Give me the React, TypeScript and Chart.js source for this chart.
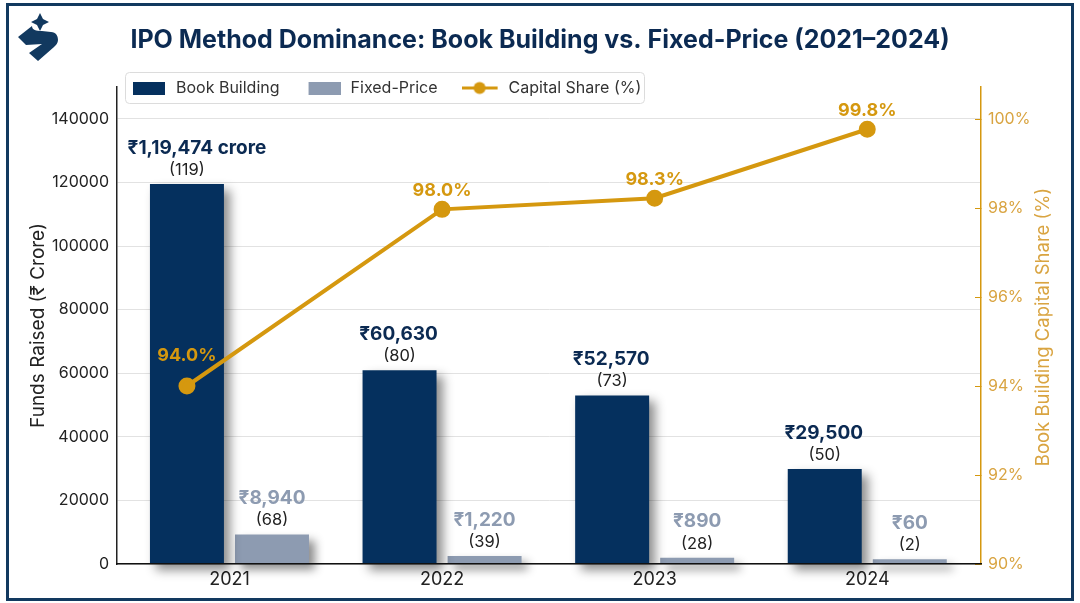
import { useEffect, useRef } from "react";
import { Chart, registerables } from "chart.js";

Chart.register(...registerables);

const FONT = "Inter";
const NAVY = "#05305E";
const SLATE = "#8D9BB1";
const GOLD = "#D5980F";
const GOLD_TEXT = "#D9A441";

const years = ["2021", "2022", "2023", "2024"];
const groupX = [0, 1, 2, 3];
const capitalX = [-0.2, 1, 2, 3];
const fundTicks = [0, 20000, 40000, 60000, 80000, 100000, 120000, 140000];

const bookBuilding = [119474, 60900, 53000, 29900];
const fixedPrice = [9300, 2500, 2000, 1500];
const capitalShare = [94.0, 97.97, 98.22, 99.77];

const bookLabels = ["₹1,19,474 crore", "₹60,630", "₹52,570", "₹29,500"];
const bookCounts = ["(119)", "(80)", "(73)", "(50)"];
const fixedLabels = ["₹8,940", "₹1,220", "₹890", "₹60"];
const fixedCounts = ["(68)", "(39)", "(28)", "(2)"];
const shareLabels = ["94.0%", "98.0%", "98.3%", "99.8%"];

// legend swatches go through pointStyle so the line entry can have its dot
const swatch = (draw: (c: CanvasRenderingContext2D) => void, w: number, h: number) => {
  const cv = document.createElement("canvas");
  cv.width = w;
  cv.height = h;
  draw(cv.getContext("2d")!);
  return cv;
};

const barShadow = {
  id: "barShadow",
  beforeDatasetDraw(chart: any, args: any) {
    if (args.meta.type !== "bar") return;
    const { ctx } = chart;
    ctx.save();
    ctx.shadowColor = "rgba(0,0,0,0.45)";
    ctx.shadowBlur = 10;
    ctx.shadowOffsetX = 6;
    ctx.shadowOffsetY = 6;
  },
  afterDatasetDraw(chart: any, args: any) {
    if (args.meta.type === "bar") chart.ctx.restore();
  },
};

const moveHeader = {
  id: "moveHeader",
  afterLayout(chart: any) {
    const t = chart.titleBlock;
    t.top += 18;
    t.bottom += 18;
    const l = chart.legend;
    const h = l.height;
    l.left = 105;
    l.right = l.left + l.width;
    l.top = 56;
    l.bottom = l.top + h;
  },
  afterDraw(chart: any) {
    const { ctx } = chart;
    ctx.save();
    ctx.strokeStyle = "#dcdcdc";
    ctx.lineWidth = 1;
    ctx.beginPath();
    ctx.roundRect(125.5, 72.5, 519, 31, 4);
    ctx.stroke();
    ctx.restore();
  },
};

const valueLabels = {
  id: "valueLabels",
  afterDatasetsDraw(chart: any) {
    const { ctx } = chart;
    const put = (text: string, x: number, y: number, font: string, color: string) => {
      ctx.font = font;
      ctx.fillStyle = color;
      ctx.fillText(text, x, y);
    };
    ctx.save();
    ctx.textAlign = "center";
    ctx.textBaseline = "middle";
    chart.getDatasetMeta(0).data.forEach((bar: any, i: number) => {
      const shift = i === 0 ? 10 : -1;
      put(bookLabels[i], bar.x + shift, bar.y - 36, `700 19px ${FONT}`, "#0B2A52");
      put(bookCounts[i], bar.x, bar.y - 14, `400 16.5px ${FONT}`, "#222");
    });
    chart.getDatasetMeta(1).data.forEach((bar: any, i: number) => {
      put(fixedLabels[i], bar.x, bar.y - 36, `700 19px ${FONT}`, SLATE);
      put(fixedCounts[i], bar.x, bar.y - 14, `400 16.5px ${FONT}`, "#222");
    });
    chart.getDatasetMeta(2).data.forEach((pt: any, i: number) => {
      const up = i === 0 ? 30 : 19;
      put(shareLabels[i], pt.x, pt.y - up, `700 18px ${FONT}`, GOLD);
    });
    // right axis title reads bottom to top, chart.js would flip it
    ctx.translate(1043, 327);
    ctx.rotate(-Math.PI / 2);
    put("Book Building Capital Share (%)", 0, 0, `400 18.5px ${FONT}`, GOLD_TEXT);
    ctx.restore();
  },
};

const Logo = () => (
  <svg
    width="60"
    height="60"
    viewBox="0 0 60 60"
    style={{ position: "absolute", left: 10, top: 8 }}
  >
    <path d="M30 5 L33 11 L39 14 L33 17 L30 23 L27 17 L21 14 L27 11 Z" fill="#12395F" />
    <path
      d="M8 29 L22 18 C22 22 26 23 32 23 L41 24 C46 24 48 28 48 32 C48 35 46 37 44 39 L28 53 L19 45 L32 36 L16 37 Z"
      fill="#12395F"
    />
  </svg>
);

export default function App() {
  const chartRef = useRef<HTMLCanvasElement>(null);

  useEffect(() => {
    const canvas = chartRef.current;
    if (!canvas) return;

    const rectNavy = swatch((c) => { c.fillStyle = NAVY; c.fillRect(0, 0, 32, 13); }, 32, 13);
    const rectSlate = swatch((c) => { c.fillStyle = SLATE; c.fillRect(3, 0, 32, 13); }, 35, 13);
    const lineDot = swatch((c) => {
      c.fillStyle = GOLD;
      c.fillRect(0, 6, 36, 3);
      c.beginPath();
      c.arc(18, 7.5, 6, 0, Math.PI * 2);
      c.fill();
    }, 39, 15);
    const swatches = [rectNavy, rectSlate, lineDot];

    const chart = new Chart(canvas, {
      type: "bar",
      data: {
        datasets: [
          {
            label: "Book Building",
            data: groupX.map((x, i) => ({ x, y: bookBuilding[i] })),
            backgroundColor: NAVY,
            yAxisID: "y",
            order: 1,
            clip: false,
            categoryPercentage: 0.8,
            barPercentage: 0.87,
          },
          {
            label: "Fixed-Price",
            data: groupX.map((x, i) => ({ x, y: fixedPrice[i] })),
            backgroundColor: SLATE,
            yAxisID: "y",
            order: 1,
            clip: false,
            categoryPercentage: 0.8,
            barPercentage: 0.87,
          },
          {
            type: "line",
            label: "Capital Share (%)",
            data: capitalX.map((x, i) => ({ x, y: capitalShare[i] })),
            borderColor: GOLD,
            backgroundColor: GOLD,
            borderWidth: 4,
            pointRadius: 6.5,
            tension: 0,
            yAxisID: "y1",
            order: 0,
          },
        ] as any,
      },
      options: {
        responsive: false,
        animation: false,
        layout: { padding: { top: 7 } },
        plugins: {
          title: {
            display: true,
            text: "IPO Method Dominance: Book Building vs. Fixed-Price (2021–2024)",
            color: "#0B2A52",
            font: { family: FONT, size: 25, weight: 700 },
            padding: 0,
          },
          legend: {
            position: "top",
            align: "start",
            labels: {
              usePointStyle: true,
              pointStyleWidth: 39,
              padding: 24,
              color: "#333",
              font: { family: FONT, size: 16 },
              generateLabels: (c: any) =>
                c.data.datasets.map((d: any, i: number) => ({
                  text: d.label,
                  datasetIndex: i,
                  pointStyle: swatches[i],
                  fontColor: "#333",
                  lineWidth: 0,
                })),
            },
          },
          tooltip: { enabled: false },
        },
        scales: {
          x: {
            type: "linear",
            offset: false,
            min: -0.529,
            max: 3.535,
            afterBuildTicks: (s: any) => {
              s.ticks = groupX.map((value) => ({ value }));
            },
            afterFit: (s: any) => {
              s.height = 39;
            },
            grid: { display: false, drawTicks: false },
            border: { display: true, color: "#111", width: 1.5, z: 1 },
            ticks: {
              autoSkip: false,
              maxRotation: 0,
              padding: 5,
              color: "#222",
              font: { family: FONT, size: 18 },
              callback: (v: any) => years[groupX.indexOf(v)],
            },
          },
          y: {
            position: "left",
            min: 0,
            max: 150000,
            afterBuildTicks: (s: any) => {
              s.ticks = fundTicks.map((value) => ({ value }));
            },
            afterFit: (s: any) => {
              s.width = 117;
            },
            title: {
              display: true,
              text: "Funds Raised (₹ Crore)",
              color: "#222",
              font: { family: FONT, size: 19 },
              padding: { top: 27, bottom: 0 },
            },
            grid: { color: "#e2e2e2", lineWidth: 1, drawTicks: false },
            border: { color: "#222", width: 1.5 },
            ticks: {
              padding: 8,
              color: "#222",
              font: { family: FONT, size: 16 },
              callback: (v: any) => String(v),
            },
          },
          y1: {
            position: "right",
            min: 90,
            max: 100.72,
            afterFit: (s: any) => {
              s.width = 99;
            },
            grid: { drawOnChartArea: false, color: GOLD, tickLength: -6 },
            border: { color: GOLD, width: 1.5 },
            ticks: {
              stepSize: 2,
              includeBounds: false,
              padding: 13,
              color: GOLD_TEXT,
              font: { family: FONT, size: 16 },
              callback: (v: any) => `${v}%`,
            },
          },
        },
      } as any,
      plugins: [barShadow, moveHeader, valueLabels],
    });

    return () => chart.destroy();
  }, []);

  return (
    <div style={{ position: "fixed", left: 0, top: 0, width: 1080, height: 603, background: "#fff" }}>
      <canvas ref={chartRef} width={1080} height={603} style={{ display: "block" }} />
      <div
        style={{
          position: "absolute",
          left: 6,
          top: 3,
          width: 1068,
          height: 598,
          boxSizing: "border-box",
          border: "3px solid #12395F",
          pointerEvents: "none",
        }}
      />
      <Logo />
    </div>
  );
}
